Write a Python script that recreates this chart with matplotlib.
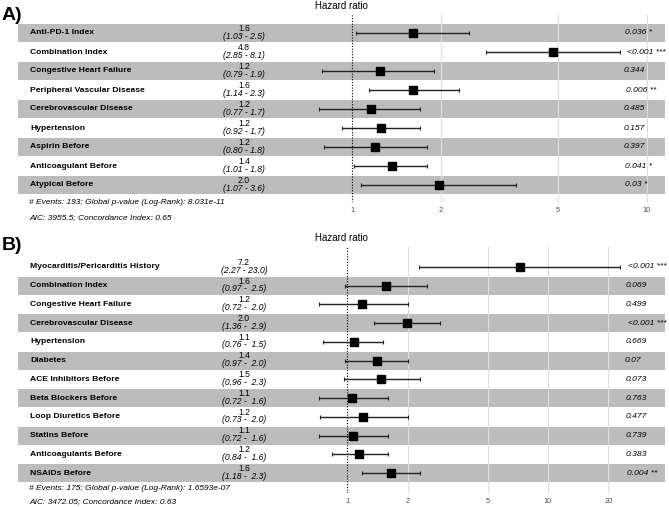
import numpy as np
import matplotlib.pyplot as plt

plt.rcParams['font.family'] = ['Liberation Sans', 'DejaVu Sans']

# Panel A data
labels_a = ['Anti-PD-1 Index', 'Combination Index', 'Congestive Heart Failure',
            'Peripheral Vascular Disease', 'Cerebrovascular Disease', 'Hypertension',
            'Aspirin Before', 'Anticoagulant Before', 'Atypical Before']
hr_a = [1.61, 4.79, 1.24, 1.61, 1.16, 1.25, 1.19, 1.36, 1.97]
est_a = ['1.6', '4.8', '1.2', '1.6', '1.2', '1.2', '1.2', '1.4', '2.0']
lo_a = [1.03, 2.85, 0.79, 1.14, 0.77, 0.92, 0.80, 1.01, 1.07]
hi_a = [2.5, 8.1, 1.9, 2.3, 1.7, 1.7, 1.8, 1.8, 3.6]
p_a = ['0.036 *', '<0.001 ***', '0.344', '0.006 **', '0.485', '0.157',
       '0.397', '0.041 *', '0.03 *']
ticks_a = [1, 2, 5, 10]
foot_a = ['# Events: 193; Global p-value (Log-Rank): 8.031e-11',
          'AIC: 3955.5; Concordance Index: 0.65']

# Panel B data
labels_b = ['Myocarditis/Pericarditis History', 'Combination Index',
            'Congestive Heart Failure', 'Cerebrovascular Disease', 'Hypertension',
            'Diabetes', 'ACE Inhibitors Before', 'Beta Blockers Before',
            'Loop Diuretics Before', 'Statins Before', 'Anticoagulants Before',
            'NSAIDs Before']
hr_b = [7.26, 1.56, 1.19, 1.99, 1.08, 1.40, 1.48, 1.06, 1.20, 1.07, 1.15, 1.65]
est_b = ['7.2', '1.6', '1.2', '2.0', '1.1', '1.4', '1.5', '1.1', '1.2', '1.1',
         '1.2', '1.6']
lo_b = [2.27, 0.97, 0.72, 1.36, 0.76, 0.97, 0.96, 0.72, 0.73, 0.72, 0.84, 1.18]
hi_b = [23.0, 2.5, 2.0, 2.9, 1.5, 2.0, 2.3, 1.6, 2.0, 1.6, 1.6, 2.3]
p_b = ['<0.001 ***', '0.069', '0.499', '<0.001 ***', '0.669', '0.07', '0.073',
       '0.763', '0.477', '0.739', '0.383', '0.004 **']
ticks_b = [1, 2, 5, 10, 20]
foot_b = ['# Events: 175; Global p-value (Log-Rank): 1.6593e-07',
          'AIC: 3472.05; Concordance Index: 0.63']

W, H = 669, 507
fig = plt.figure(figsize=(W / 100, H / 100), dpi=100)


def forest(top, bottom, row0, step, px_one, px_dec, labels, hr, est, lo, hi,
           pvals, ticks, foot, foot_y, first_grey, p_x, letter, letter_y):
    # axes placed in figure pixels, bands span the full axes width
    left, right = 18, 665
    ax = fig.add_axes([left / W, 1 - bottom / H, (right - left) / W, (bottom - top) / H])
    n = len(labels)
    ax.set_xscale('log')
    ax.set_xlim(10 ** ((left - px_one) / px_dec), 10 ** ((right - px_one) / px_dec))
    ax.set_ylim((bottom - row0) / step, (top - row0) / step)
    y = np.arange(n)

    for i in range(n):
        if (i % 2 == 0) == first_grey:
            ax.axhspan(i - 0.48, i + 0.48, color='#bcbcbc', lw=0, zorder=0)
    for t in ticks[1:]:
        ax.axvline(t, color='#dcdcdc', lw=0.8, zorder=0.5)
    ax.axvline(1, color='black', lw=0.8, ls=(0, (1, 1.5)), zorder=1)

    hr = np.array(hr)
    ax.errorbar(hr, y, xerr=[hr - np.array(lo), np.array(hi) - hr], fmt='s',
                color='black', ecolor='#222222', ms=5.5, elinewidth=1,
                capsize=1.3, capthick=0.8, zorder=3)

    tr = ax.get_yaxis_transform()
    wid = max(len(f'{h:.1f}') for h in hi)
    est_x = (244 - left) / (right - left)
    for i in range(n):
        ax.text((30 - left) / (right - left), i, labels[i], transform=tr,
                ha='left', va='center', fontsize=6.1, fontweight='bold')
        ax.annotate(est[i], (est_x, i), xycoords=tr, xytext=(0, 3.4),
                    textcoords='offset points', ha='center', va='center',
                    fontsize=6.2)
        ci = f'({lo[i]:.2f} - {hi[i]:{wid}.1f})'
        ax.annotate(ci, (est_x, i), xycoords=tr, xytext=(0, -2.2),
                    textcoords='offset points', ha='center', va='center',
                    fontsize=6.2, style='italic')
        ax.annotate(pvals[i], ((p_x - left) / (right - left), i), xycoords=tr,
                    xytext=(0.45 * len(pvals[i]), 0), textcoords='offset points',
                    ha='left', va='center', fontsize=6.1, style='italic')

    ax.set_xticks(ticks)
    ax.set_xticklabels([str(t) for t in ticks])
    ax.minorticks_off()
    ax.tick_params(axis='x', length=0, labelsize=5.3, labelcolor='#4d4d4d', pad=3.5)
    ax.set_yticks([])
    for s in ax.spines.values():
        s.set_visible(False)
    ax.patch.set_alpha(0)

    ax.set_title('Hazard ratio', fontsize=7, pad=4.5)
    for k in range(2):
        fig.text(29 / W, 1 - foot_y[k] / H, foot[k], fontsize=6.0,
                 style='italic', va='center')
    fig.text(2 / W, 1 - letter_y / H, letter, fontsize=14, fontweight='bold',
             va='center', ha='left')


forest(15, 202, 33, 19, 352.3, 294.4, labels_a, hr_a, est_a, lo_a, hi_a, p_a,
       ticks_a, foot_a, (203, 218), True, 621, 'A)', 15)
forest(247, 493, 267, 18.73, 347.3, 200.6, labels_b, hr_b, est_b, lo_b, hi_b, p_b,
       ticks_b, foot_b, (488, 502), False, 622, 'B)', 245)

fig.savefig('out.png', dpi=100)
